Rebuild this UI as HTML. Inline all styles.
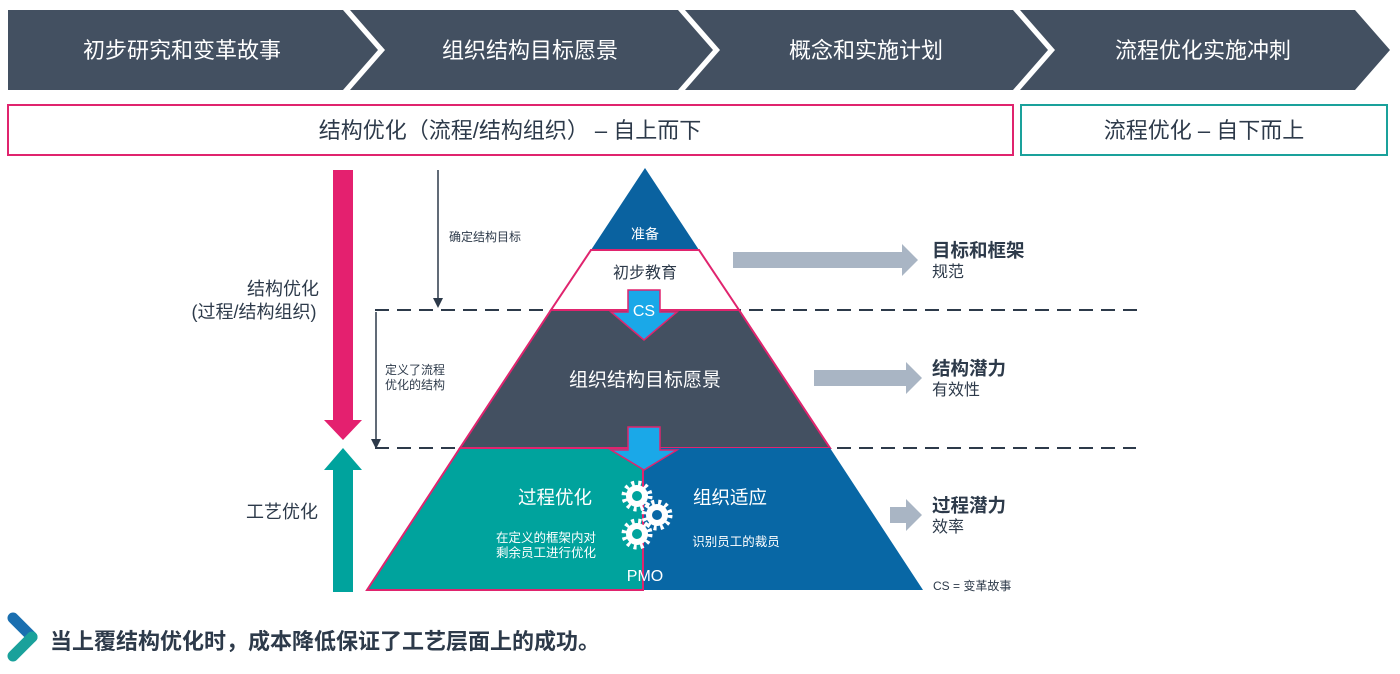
<!DOCTYPE html>
<html><head><meta charset="utf-8"><style>
body{margin:0;background:#fff;}
svg{display:block;font-family:"Liberation Sans","Noto Sans CJK SC",sans-serif;}
</style></head><body>
<svg width="1400" height="674" viewBox="0 0 1400 674">
<g fill="#435061">
<polygon points="8,10 343,10 378,50 343,90 8,90"/>
<polygon points="350,10 678,10 713,50 678,90 350,90 385,50"/>
<polygon points="685,10 1013,10 1048,50 1013,90 685,90 720,50"/>
<polygon points="1020,10 1355,10 1390,50 1355,90 1020,90 1055,50"/>
</g>
<g fill="#fff" font-size="22" text-anchor="middle">
<text x="182" y="58">初步研究和变革故事</text>
<text x="530" y="58">组织结构目标愿景</text>
<text x="866" y="58">概念和实施计划</text>
<text x="1203" y="58">流程优化实施冲刺</text>
</g>
<rect x="8" y="105" width="1005" height="50" fill="#fff" stroke="#e0246e" stroke-width="2"/>
<rect x="1021" y="105" width="366" height="50" fill="#fff" stroke="#1aa19b" stroke-width="2"/>
<g fill="#2d3a4a" font-size="22" text-anchor="middle">
<text x="510" y="138">结构优化（流程/结构组织） – 自上而下</text>
<text x="1204" y="138">流程优化 – 自下而上</text>
</g>
<polygon points="333,170 353,170 353,420 362,420 343,440 324,420 333,420" fill="#e4206f"/>
<polygon points="343,448 362,470 353,470 353,592 333,592 333,470 324,470" fill="#00a39d"/>
<g fill="#2d3a4a" font-size="18" text-anchor="middle">
<text x="283" y="295">结构优化</text>
<text x="254" y="318">(过程/结构组织)</text>
<text x="282" y="518">工艺优化</text>
</g>
<g stroke="#2d3a4a" stroke-width="1.5" fill="#2d3a4a">
<line x1="438" y1="170" x2="438" y2="300"/>
<polygon points="433,298 443,298 438,308" stroke="none"/>
<line x1="376" y1="312" x2="376" y2="441"/>
<polygon points="371,439 381,439 376,449" stroke="none"/>
</g>
<g fill="#2d3a4a" font-size="12">
<text x="449" y="241">确定结构目标</text>
<text x="385" y="374">定义了流程</text>
<text x="385" y="389">优化的结构</text>
</g>
<g stroke="#2d3a4a" stroke-width="2" stroke-dasharray="14,8">
<line x1="375" y1="310" x2="1140" y2="310"/>
<line x1="375" y1="448" x2="1136" y2="448"/>
</g>
<polygon points="645,168 699,250 591,250" fill="#0a62a0"/>
<polygon points="591,250 699,250 739,310 551,310" fill="#fff" stroke="#e0246e" stroke-width="2"/>
<polygon points="551,310 739,310 830,448 460,448" fill="#435061" stroke="#e0246e" stroke-width="2"/>
<polygon points="643,448 830,448 923,590 643,590" fill="#0867a5"/>
<polygon points="460,448 643,448 643,590 367,590" fill="#00a39d" stroke="#e0246e" stroke-width="2"/>
<polygon points="628,290 660,290 660,312 677,312 644,340 611,312 628,312" fill="#1aa8e8" stroke="#e0246e" stroke-width="1.5"/>
<polygon points="628,427 660,427 660,450 677,450 644,470 611,450 628,450" fill="#1aa8e8" stroke="#e0246e" stroke-width="1.5"/>
<text x="644" y="316" fill="#fff" font-size="16" text-anchor="middle">CS</text>
<g text-anchor="middle">
<text x="645" y="239" fill="#fff" font-size="14">准备</text>
<text x="645" y="278" fill="#2d3a4a" font-size="16">初步教育</text>
<text x="645" y="386" fill="#fff" font-size="19">组织结构目标愿景</text>
<text x="555" y="504" fill="#fff" font-size="18.5">过程优化</text>
<text x="730" y="504" fill="#fff" font-size="18.5">组织适应</text>
<text x="546" y="542" fill="#fff" font-size="12.5">在定义的框架内对</text>
<text x="546" y="557" fill="#fff" font-size="12.5">剩余员工进行优化</text>
<text x="736" y="546" fill="#fff" font-size="12.5">识别员工的裁员</text>
<text x="645" y="581" fill="#fff" font-size="16">PMO</text>
</g>
<g fill="#fff">
<circle cx="637" cy="496" r="11"/><circle cx="657" cy="515" r="11"/><circle cx="637" cy="534" r="11"/>
<g stroke="#fff" stroke-width="5" stroke-dasharray="3,3.9">
<circle cx="637" cy="496" r="13" fill="none"/><circle cx="657" cy="515" r="13" fill="none"/><circle cx="637" cy="534" r="13" fill="none"/>
</g>
</g>
<circle cx="637" cy="496" r="5" fill="#00a39d"/>
<circle cx="657" cy="515" r="5" fill="#0867a5"/>
<circle cx="637" cy="534" r="5" fill="#00a39d"/>
<g fill="#a9b5c4">
<polygon points="733,252 902,252 902,244 918,260 902,276 902,268 733,268"/>
<polygon points="814,370 906,370 906,362 922,378 906,394 906,386 814,386"/>
<polygon points="890,507 906,507 906,499 922,515 906,531 906,523 890,523"/>
</g>
<g fill="#2d3a4a">
<text x="932" y="257" font-size="18.5" font-weight="bold">目标和框架</text>
<text x="932" y="277" font-size="16">规范</text>
<text x="932" y="375" font-size="18.5" font-weight="bold">结构潜力</text>
<text x="932" y="395" font-size="16">有效性</text>
<text x="932" y="512" font-size="18.5" font-weight="bold">过程潜力</text>
<text x="932" y="532" font-size="16">效率</text>
<text x="933" y="590" font-size="12">CS = 变革故事</text>
</g>
<line x1="13" y1="618" x2="32" y2="637" stroke="#1a6fb0" stroke-width="11" stroke-linecap="round"/>
<line x1="32" y1="637" x2="13" y2="656" stroke="#1aa19b" stroke-width="11" stroke-linecap="round"/>
<text x="50" y="649" fill="#2d3a4a" font-size="22" font-weight="bold">当上覆结构优化时，成本降低保证了工艺层面上的成功。</text>
</svg>
</body></html>
